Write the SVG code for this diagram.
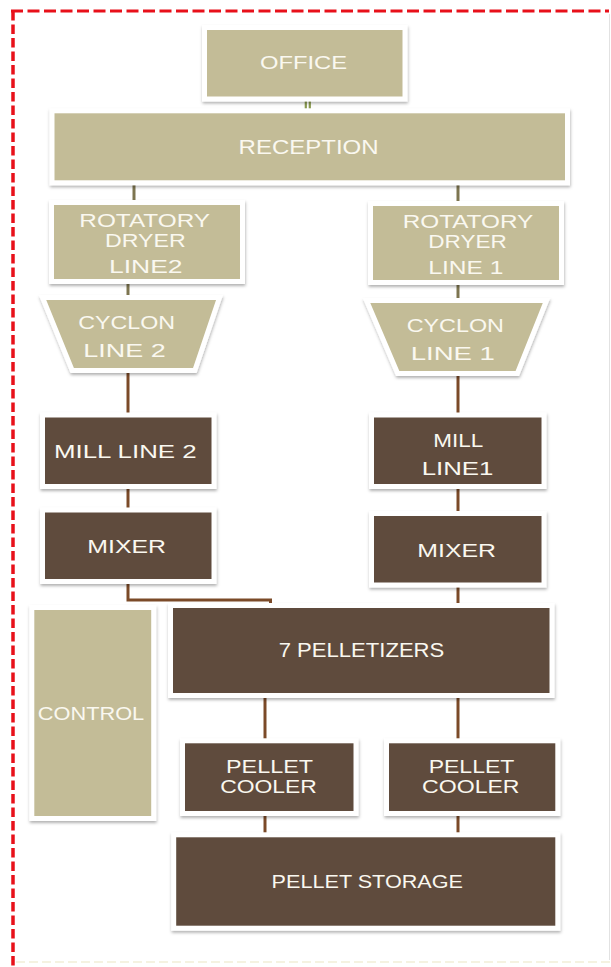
<svg xmlns="http://www.w3.org/2000/svg" width="611" height="967" viewBox="0 0 611 967">
<defs>
<filter id="sh" x="-10%" y="-10%" width="120%" height="130%">
<feDropShadow dx="0.5" dy="2" stdDeviation="1.5" flood-color="#000" flood-opacity="0.3"/>
</filter>
<style>
.tan{fill:#C3BC97;stroke:#fff;stroke-width:5;filter:url(#sh)}
.brn{fill:#5E4B3D;stroke:#fff;stroke-width:5;filter:url(#sh)}
.t{font-family:"Liberation Sans",Arial,sans-serif;fill:#FAF8F0;text-anchor:middle}
.c{fill:none;stroke:#7B4A28;stroke-width:3}
.o{fill:none;stroke:#7D7550;stroke-width:3}
.g{fill:none;stroke:#8A9A50;stroke-width:2.2}
</style>
</defs>
<rect width="611" height="967" fill="#fff"/>
<g id="frame">
<line x1="13" y1="11" x2="13" y2="967" stroke="#E8101A" stroke-width="3.5" stroke-dasharray="9.5 4"/>
<line x1="11" y1="11" x2="609" y2="11" stroke="#E8101A" stroke-width="3" stroke-dasharray="12 4.5"/>
<line x1="609.5" y1="14" x2="609.5" y2="960" stroke="#E2E2E2" stroke-width="1"/>
<line x1="16" y1="962" x2="611" y2="962" stroke="#F2EED8" stroke-width="1.5" stroke-dasharray="9 4"/>
</g>
<g id="connectors">
<line class="g" x1="305.8" y1="99" x2="305.8" y2="111"/>
<line class="g" x1="309.8" y1="99" x2="309.8" y2="111"/>
<line class="o" x1="134" y1="182" x2="134" y2="205"/>
<line class="o" x1="458" y1="182" x2="458" y2="206"/>
<line class="o" x1="128" y1="280" x2="128" y2="299"/>
<line class="o" x1="458" y1="281" x2="458" y2="302"/>
<line class="c" x1="128" y1="368" x2="128" y2="418"/>
<line class="c" x1="458" y1="371" x2="458" y2="418"/>
<line class="c" x1="128" y1="485" x2="128" y2="512"/>
<line class="c" x1="458" y1="485" x2="458" y2="516"/>
<path class="c" d="M128 580 V600 H270.5 V608"/>
<line class="c" x1="458" y1="583" x2="458" y2="608"/>
<line class="c" x1="265" y1="693" x2="265" y2="743"/>
<line class="c" x1="458" y1="693" x2="458" y2="743"/>
<line class="c" x1="265" y1="811" x2="265" y2="837"/>
<line class="c" x1="458" y1="811" x2="458" y2="837"/>
</g>
<g id="office">
<rect class="tan" x="204.5" y="27.5" width="200.5" height="71.5"/>
<text class="t" x="303.5" y="69.3" font-size="19" textLength="87" lengthAdjust="spacingAndGlyphs">OFFICE</text>
</g>
<g id="reception">
<rect class="tan" x="52" y="110.8" width="515.5" height="72"/>
<text class="t" x="308.6" y="154" font-size="20.3" textLength="140" lengthAdjust="spacingAndGlyphs">RECEPTION</text>
</g>
<g id="dryer2">
<rect class="tan" x="51.5" y="202.5" width="191" height="79"/>
<text class="t" x="144.7" y="226.7" font-size="18.6" textLength="130.7" lengthAdjust="spacingAndGlyphs">ROTATORY</text>
<text class="t" x="145.3" y="246.7" font-size="18.6" textLength="80.7" lengthAdjust="spacingAndGlyphs">DRYER</text>
<text class="t" x="145.8" y="273.3" font-size="18.6" textLength="73.7" lengthAdjust="spacingAndGlyphs">LINE2</text>
</g>
<g id="dryer1">
<rect class="tan" x="370.5" y="203.5" width="191" height="79"/>
<text class="t" x="468" y="228.3" font-size="18.6" textLength="130.7" lengthAdjust="spacingAndGlyphs">ROTATORY</text>
<text class="t" x="467.5" y="247.7" font-size="18.6" textLength="78.4" lengthAdjust="spacingAndGlyphs">DRYER</text>
<text class="t" x="465.8" y="274" font-size="18.6" textLength="75" lengthAdjust="spacingAndGlyphs">LINE 1</text>
</g>
<g id="cyclon2">
<polygon class="tan" stroke-linejoin="miter" points="42.5,297.5 219.5,297.5 194.8,370.5 72.2,370.5"/>
<text class="t" x="126.7" y="329.3" font-size="19" textLength="96.7" lengthAdjust="spacingAndGlyphs">CYCLON</text>
<text class="t" x="124.5" y="357.3" font-size="19" textLength="82.3" lengthAdjust="spacingAndGlyphs">LINE 2</text>
</g>
<g id="cyclon1">
<polygon class="tan" stroke-linejoin="miter" points="366.5,300.5 546.5,300.5 517.3,373.5 397.7,373.5"/>
<text class="t" x="455.3" y="331.7" font-size="19" textLength="97.3" lengthAdjust="spacingAndGlyphs">CYCLON</text>
<text class="t" x="452.8" y="360" font-size="19" textLength="84.3" lengthAdjust="spacingAndGlyphs">LINE 1</text>
</g>
<g id="mill2">
<rect class="brn" x="42.5" y="415" width="171.5" height="71.5"/>
<text class="t" x="125.3" y="457.7" font-size="18.6" textLength="142.7" lengthAdjust="spacingAndGlyphs">MILL LINE 2</text>
</g>
<g id="mill1">
<rect class="brn" x="371.5" y="415" width="172.5" height="71.5"/>
<text class="t" x="458.3" y="446.7" font-size="18.6" textLength="50" lengthAdjust="spacingAndGlyphs">MILL</text>
<text class="t" x="457.5" y="475" font-size="18.6" textLength="71.7" lengthAdjust="spacingAndGlyphs">LINE1</text>
</g>
<g id="mixer2">
<rect class="brn" x="42.5" y="510" width="171.5" height="71.5"/>
<text class="t" x="126.7" y="553.3" font-size="18.6" textLength="78.7" lengthAdjust="spacingAndGlyphs">MIXER</text>
</g>
<g id="mixer1">
<rect class="brn" x="371.5" y="513.5" width="172.5" height="71.5"/>
<text class="t" x="456.7" y="556.7" font-size="18.6" textLength="78.7" lengthAdjust="spacingAndGlyphs">MIXER</text>
</g>
<g id="control">
<rect class="tan" x="31.8" y="607.5" width="121.9" height="211"/>
<text class="t" x="91" y="720" font-size="18.6" textLength="106.4" lengthAdjust="spacingAndGlyphs">CONTROL</text>
</g>
<g id="pelletizers">
<rect class="brn" x="170.5" y="605.5" width="381.5" height="90"/>
<text class="t" x="361.5" y="657.3" font-size="19.5" textLength="165.6" lengthAdjust="spacingAndGlyphs">7 PELLETIZERS</text>
</g>
<g id="cooler2">
<rect class="brn" x="182.5" y="740.8" width="173.5" height="72.7"/>
<text class="t" x="269.5" y="773.3" font-size="19" textLength="87" lengthAdjust="spacingAndGlyphs">PELLET</text>
<text class="t" x="268.5" y="793.3" font-size="19" textLength="96.6" lengthAdjust="spacingAndGlyphs">COOLER</text>
</g>
<g id="cooler1">
<rect class="brn" x="386.5" y="740.8" width="171.3" height="72.7"/>
<text class="t" x="471.5" y="773.3" font-size="19" textLength="85.7" lengthAdjust="spacingAndGlyphs">PELLET</text>
<text class="t" x="470.8" y="793.3" font-size="19" textLength="97.5" lengthAdjust="spacingAndGlyphs">COOLER</text>
</g>
<g id="storage">
<rect class="brn" x="173.7" y="834.8" width="384.1" height="93.4"/>
<text class="t" x="367.3" y="888.3" font-size="17.7" textLength="191.4" lengthAdjust="spacingAndGlyphs">PELLET STORAGE</text>
</g>
</svg>
